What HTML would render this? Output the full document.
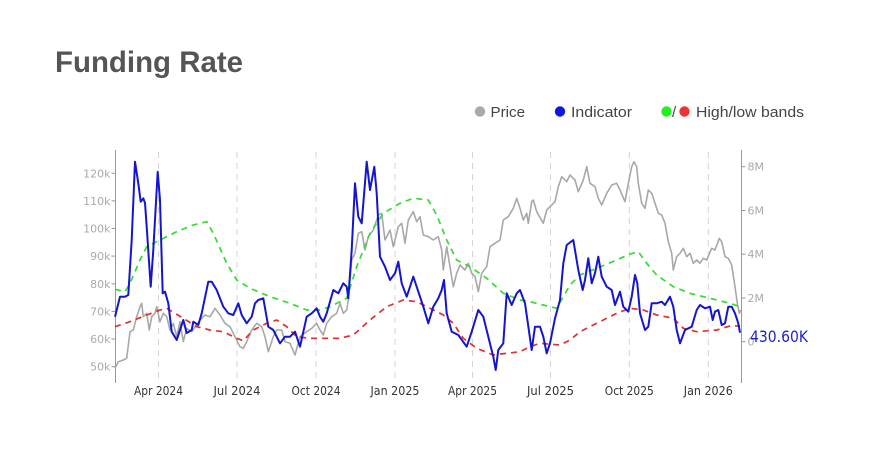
<!DOCTYPE html>
<html><head><meta charset="utf-8"><style>
html,body{margin:0;padding:0;background:#fff;}
svg{display:block;}
</style></head><body>
<svg width="875" height="452" viewBox="0 0 875 452" xmlns="http://www.w3.org/2000/svg">
<rect width="875" height="452" fill="#fff"/>
<text x="55" y="72" font-family="Liberation Sans, sans-serif" font-weight="bold" font-size="29.5" fill="#555" textLength="188" lengthAdjust="spacingAndGlyphs">Funding Rate</text>

<g font-family="Liberation Sans, sans-serif" font-size="15" fill="#444">
<circle cx="480" cy="111.5" r="5.2" fill="#aaa"/>
<text x="490.5" y="117" textLength="34.5" lengthAdjust="spacingAndGlyphs">Price</text>
<circle cx="560" cy="111.5" r="5.2" fill="#1414e6"/>
<text x="571" y="117" textLength="61" lengthAdjust="spacingAndGlyphs">Indicator</text>
<circle cx="666.5" cy="111.5" r="5.2" fill="#22ee22"/>
<text x="672" y="117">/</text>
<circle cx="684.5" cy="111.5" r="5.2" fill="#ee3333"/>
<text x="696" y="117" textLength="108" lengthAdjust="spacingAndGlyphs">High/low bands</text>
</g>

<!-- gridlines -->
<g stroke="#d4d4d4" stroke-width="1" stroke-dasharray="6,5">
<line x1="158.5" y1="152" x2="158.5" y2="382"/>
<line x1="237" y1="152" x2="237" y2="382"/>
<line x1="316" y1="152" x2="316" y2="382"/>
<line x1="395" y1="152" x2="395" y2="382"/>
<line x1="472.5" y1="152" x2="472.5" y2="382"/>
<line x1="550.5" y1="152" x2="550.5" y2="382"/>
<line x1="629.3" y1="152" x2="629.3" y2="382"/>
<line x1="708.3" y1="152" x2="708.3" y2="382"/>
</g>

<!-- axes -->
<g stroke="#999" stroke-width="1">
<line x1="115.5" y1="150" x2="115.5" y2="383"/>
<line x1="741.5" y1="150" x2="741.5" y2="383"/>
<line x1="111.5" y1="173.3" x2="115.5" y2="173.3"/>
<line x1="111.5" y1="200.9" x2="115.5" y2="200.9"/>
<line x1="111.5" y1="228.5" x2="115.5" y2="228.5"/>
<line x1="111.5" y1="256.1" x2="115.5" y2="256.1"/>
<line x1="111.5" y1="283.8" x2="115.5" y2="283.8"/>
<line x1="111.5" y1="311.4" x2="115.5" y2="311.4"/>
<line x1="111.5" y1="339" x2="115.5" y2="339"/>
<line x1="111.5" y1="366.7" x2="115.5" y2="366.7"/>
<line x1="741.5" y1="166.7" x2="745.5" y2="166.7"/>
<line x1="741.5" y1="210.5" x2="745.5" y2="210.5"/>
<line x1="741.5" y1="254.2" x2="745.5" y2="254.2"/>
<line x1="741.5" y1="298" x2="745.5" y2="298"/>
<line x1="741.5" y1="341.7" x2="745.5" y2="341.7"/>
</g>

<g font-family="DejaVu Sans, Verdana, sans-serif" font-size="11" fill="#aaa" text-anchor="end">
<text x="110.5" y="177.3">120k</text>
<text x="110.5" y="204.9">110k</text>
<text x="110.5" y="232.5">100k</text>
<text x="110.5" y="260.1">90k</text>
<text x="110.5" y="287.8">80k</text>
<text x="110.5" y="315.4">70k</text>
<text x="110.5" y="343">60k</text>
<text x="110.5" y="370.7">50k</text>
</g>
<g font-family="DejaVu Sans, Verdana, sans-serif" font-size="11" fill="#aaa">
<text x="747.5" y="170.7">8M</text>
<text x="747.5" y="214.5">6M</text>
<text x="747.5" y="258.2">4M</text>
<text x="747.5" y="302">2M</text>
<text x="747.5" y="345.7">0</text>
</g>
<g font-family="DejaVu Sans, Verdana, sans-serif" font-size="12" fill="#333" text-anchor="middle">
<text x="158.5" y="395" textLength="49" lengthAdjust="spacingAndGlyphs">Apr 2024</text>
<text x="237" y="395" textLength="47" lengthAdjust="spacingAndGlyphs">Jul 2024</text>
<text x="316" y="395" textLength="49" lengthAdjust="spacingAndGlyphs">Oct 2024</text>
<text x="395" y="395" textLength="49" lengthAdjust="spacingAndGlyphs">Jan 2025</text>
<text x="472.5" y="395" textLength="49" lengthAdjust="spacingAndGlyphs">Apr 2025</text>
<text x="550.5" y="395" textLength="47" lengthAdjust="spacingAndGlyphs">Jul 2025</text>
<text x="629.3" y="395" textLength="49" lengthAdjust="spacingAndGlyphs">Oct 2025</text>
<text x="708.3" y="395" textLength="49" lengthAdjust="spacingAndGlyphs">Jan 2026</text>
</g>

<!-- price -->
<polyline fill="none" stroke="#a8a8a8" stroke-width="1.6" stroke-linejoin="round" points="115,368.3 118.3,361.7 123.3,360 126.7,358.3 130,331.7 133.3,330 136.7,316.7 140,306.7 141.7,303.3 143.3,316.7 146.7,313.3 149.3,330 151.7,316.7 155,313.3 156.7,306.7 160,321.7 163.3,313.3 166.7,316.7 170,330 173.3,323.3 176.7,336.7 180,321.7 183.3,341.7 186.7,328.3 191.7,331.7 196.7,325 200,320 205,315 210,316.7 215,308.3 220,315 225,323.3 230,326.7 235,336.7 240,346.7 243.3,348.3 246.7,341.7 251.7,330 256.7,323.3 261.7,326.7 265,336.7 268.3,351.7 273.3,336.7 276.7,330 281.7,330 285,341.7 290,343.3 295,355 300,336.7 306.7,331.7 311.7,328.3 316.7,323.3 320,330 323.3,335 326.7,323.3 331.7,316.7 336.7,313.3 340,303.3 343.3,313.3 346.7,310 348.3,300 351.7,260 355,253.3 358.3,233.3 361.7,231.7 365,250 368.3,236.7 373.3,230 378.3,215 381.7,213.3 385,240 390,230 393.3,246.7 398.3,226.7 401.7,223.3 405,243.3 408.3,220 413.3,211.7 416.7,221.7 420,216.7 423.3,235 428.3,236.7 433.3,240 438.3,236.7 441.7,250 443.3,270 446.7,246.7 450,266.7 453.3,286.7 456.7,273.3 460,265 465,270 468.3,263.3 471.7,273.3 475,276.7 478.3,291.7 481.7,273.3 486.7,266.7 490,246.7 495,243.3 500,240 503.3,220 508.3,216.7 513.3,208.3 516.7,198.3 520,208.3 523.3,220 526.7,213.3 528.3,223.3 531.7,201.7 533.3,200 536.7,211.7 543.3,223.3 546.7,210 550,206.7 555,201.7 558.3,186.7 561.7,176.7 566.7,181.7 570,175 575,180 578.3,191.7 583.3,180 586.7,166.7 590,183.3 595,186.7 598.3,198.3 601.7,205 606.7,193.3 611.7,185 616.7,183.3 620,190 625,201.7 628.3,183.3 631.7,166.7 634,161.7 636.7,166.7 638.3,183.3 641.7,203.3 645,208.3 648.3,190 651.7,193.3 655,203.3 658.3,213.3 661.7,215 665,223.3 668.3,241.7 671.7,253.3 673.3,270 676.7,256.7 680,253.3 683.3,248.3 686.7,256.7 690,253.3 693.3,263.3 696.7,260 700,263.3 703.3,258.3 706.7,260 711.7,248.3 715,250 719.3,238.3 721.7,241.7 725,256.7 728.3,258.3 731.7,265 735,286.7 737.3,303.3 739.3,313.3 740.7,310"/>

<!-- green band -->
<polyline fill="none" stroke="#33dd33" stroke-width="1.7" stroke-dasharray="6,5" points="115,289.3 125,291.7 130,283.3 140,260 146.7,246.7 160,240 176.7,231.7 193.3,225 206.7,221.7 213.3,233.3 226.7,263.3 236.7,280 250,288.3 270,296.7 290,303.3 306.7,310 320,310 330,306.7 346.7,298.3 356.7,266.7 370,233.3 383.3,213.3 400,203.3 413.3,198.3 428.3,200 436.7,215 446.7,240 456.7,260 470,266.7 486.7,278.3 503.3,293.3 520,300 530,301.7 543.3,305 556.7,308.3 570,285 580,275 596.7,268.3 616.7,260 630,254 638.3,251.7 646.7,263.3 656.7,275 673.3,286.7 690,293.3 710,298.3 730,303.3 740,306.7"/>

<!-- red band -->
<polyline fill="none" stroke="#e03030" stroke-width="1.7" stroke-dasharray="6,5" points="115,326.7 130,321.7 146.7,315 160,310 166.7,308.3 183.3,318.3 196.7,326.7 210,330 223.3,331.7 236.7,338.3 243.3,340.7 253.3,330 266.7,323.3 276.7,320 286.7,326.7 296.7,336.7 310,338.3 320,338.3 340,338.3 353.3,335 370,320 386.7,306.7 403.3,300 416.7,301.7 430,308.3 443.3,315 453.3,323.3 463.3,338.3 476.7,348.3 493.3,355 506.7,353.3 520,351.7 530,346.7 540,343.3 560,345 570,340 580,331.7 596.7,323.3 616.7,313.3 630,308.3 643.3,310 656.7,315 673.3,318.3 683.3,328.3 696.7,331.7 716.7,330 730,326 740,326"/>

<!-- indicator -->
<polyline fill="none" stroke="#1515d0" stroke-width="2" stroke-linejoin="round" points="115,316.7 120,296.7 125,296.7 128.3,295 131.7,240 135,161.7 138.3,183.3 140.7,201.7 143.3,198.3 145,203 146.7,226.7 150.7,286.7 153.3,250 157.7,171.7 160,200 162.7,293.3 165,291.7 168.3,303.3 171.7,331.7 176.7,340 180,330 183.3,320 186.7,333 191.7,330 193.3,321.7 198.3,325 201.7,313.3 208.3,281.7 211.7,281.7 216.7,290 223.3,306.7 228.3,313.3 233.3,315 238.3,303.3 241.7,315 246.7,323.3 251.7,316.7 255,303.3 258.3,300 263.3,298.3 268.3,326.7 273.3,330 280,343.3 285,336.7 290,336.7 295,331.7 300,346.7 306.7,316.7 311.7,313.3 316.7,308.3 320,316.7 323.3,321.7 326.7,313.3 333.3,290 338.3,293.3 343.3,283.3 346.7,286.7 348.3,298.3 351.7,250 355,183.3 358.3,216.7 361.7,223.3 366.7,161.7 370,190 374.3,166.7 376.7,193.3 380,256.7 385,266.7 390,280 395,273.3 398.3,261.7 401.7,283.3 406.7,296.7 413.3,276.7 420,296.7 423.3,306.7 428.3,323.3 433.3,306.7 438.3,298.3 441.7,290 444,280 446.7,313.3 451.7,331.7 458.3,335 466.7,346.7 471.7,331.7 478.3,310 483.3,316.7 488.3,336.7 493.3,356.7 495.7,370 498.3,350 503.3,343.3 506.7,293.3 511.7,305 516.7,293.3 520,290 525,303.3 531.7,350 535,326.7 540,326.7 543.3,336.7 546.7,353.3 550,343.3 555,318.3 560,300 563.3,263.3 566.7,245 573.3,240 578.3,270 582.7,290 585,280 588.3,258.3 591.7,283.3 595,273.3 598.3,256.7 601.7,276.7 606.7,286.7 611.7,290 615,305 620,291.7 623.3,306.7 628.3,311.7 631.7,296.7 635,275 637.3,283.3 640,313.3 645,330 648.3,326.7 651.7,303.3 656.7,303.3 661.7,301.7 665,305 670,296.7 673.3,306.7 676.7,330 680,343.3 685,330 691.7,326.7 696.7,310 700,305 705,308.3 710,306.7 712.7,320 715,311.7 718.3,310 721.7,325 725,323.3 728.3,306.7 731.7,306.7 735,313.3 738.3,323.3 740,332.7"/>

<text x="750" y="342" font-family="DejaVu Sans, Verdana, sans-serif" font-size="16" fill="#2222cc" textLength="58" lengthAdjust="spacingAndGlyphs">430.60K</text>
</svg>
</body></html>
